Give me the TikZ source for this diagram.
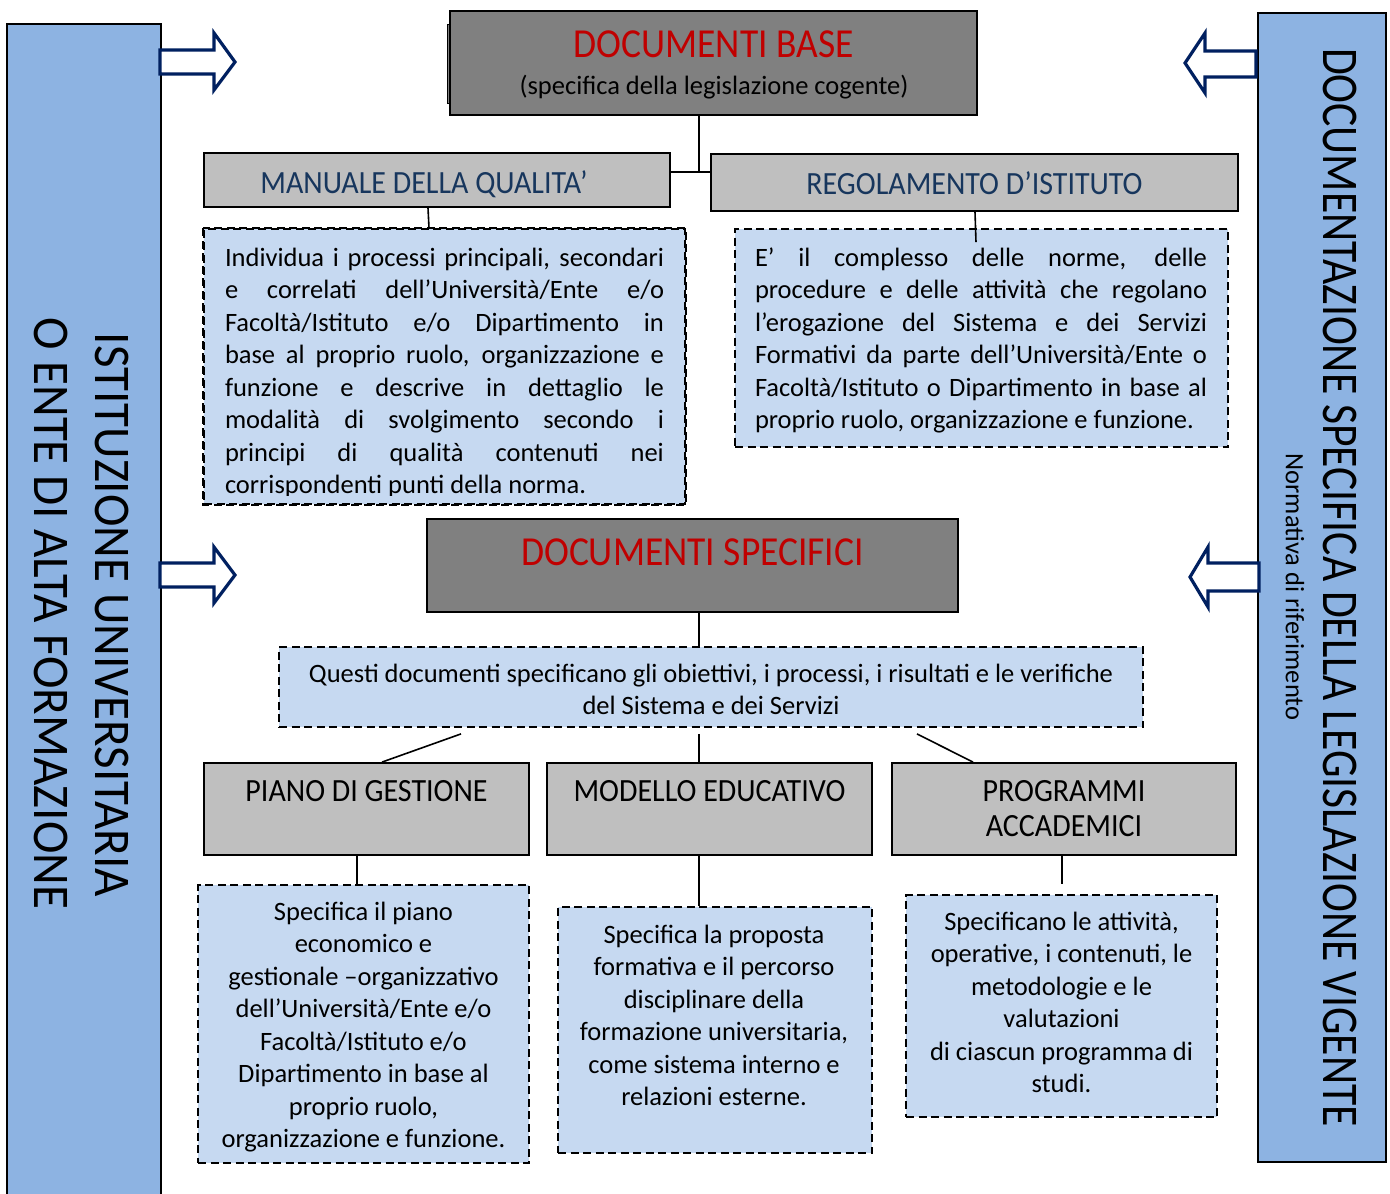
\documentclass[tikz,border=0pt]{standalone}
\usepackage{fontspec}
\setmainfont{Carlito}
\usetikzlibrary{calc}
\definecolor{colblue}{HTML}{8DB3E2}
\definecolor{pale}{HTML}{C6D9F1}
\definecolor{dgray}{HTML}{808080}
\definecolor{lgray}{HTML}{BFBFBF}
\definecolor{navytxt}{HTML}{17365D}
\definecolor{navyarrow}{HTML}{002060}
\definecolor{redtxt}{HTML}{C00000}
\newcommand\mybody{\fontsize{26.5}{32.5}\selectfont}
\newcommand\myhead{\fontsize{30}{35}\selectfont}
\newcommand\mybig{\fontsize{37.5}{42}\selectfont}
\tikzset{
  colbox/.style={draw=black, line width=1.8, fill=colblue, inner sep=0},
  darkbox/.style={draw=black, line width=1.8, fill=dgray, inner sep=0},
  lightbox/.style={draw=black, line width=1.8, fill=lgray, inner sep=0},
  dashbox/.style={draw=black, line width=1.8, fill=pale, dash pattern=on 8 off 4.5, inner sep=0},
  conn/.style={draw=black, line width=1.6},
  blockarrow/.style={draw=navyarrow, line width=3.2, fill=white, line join=miter},
  txt/.style={inner sep=0, anchor=base},
  rtxt/.style={inner sep=0, anchor=center, rotate=-90},
}
\begin{document}
\begin{tikzpicture}[x=1pt,y=-1pt]
\useasboundingbox (0,0) rectangle (1390,1194);
\clip (0,0) rectangle (1390,1194);

% side columns
\node[colbox, minimum width=154, minimum height=1186] (leftcol) at (84,617) {};
\node[colbox, minimum width=128, minimum height=1149] (rightcol) at (1322,587.5) {};
\node[rtxt] (lt1) at (112,615) {\fontsize{49}{55}\selectfont\scalebox{1}[1.05]{ISTITUZIONE UNIVERSITARIA}};
\node[rtxt] (lt2) at (51,613.5) {\fontsize{49}{55}\selectfont\scalebox{1}[1.05]{O ENTE DI ALTA FORMAZIONE}};
\node[rtxt] (rt1) at (1340,587.5) {\fontsize{43.6}{50}\selectfont\scalebox{1}[1.18]{DOCUMENTAZIONE SPECIFICA DELLA LEGISLAZIONE VIGENTE}};
\node[rtxt] (rt2) at (1295,587) {\mybody Normativa di riferimento};

% block arrows
\draw[blockarrow] (160,50) -- (214,50) -- (214,33) -- (235,62) -- (214,90) -- (214,74) -- (160,74) -- cycle;
\draw[blockarrow] (160,563) -- (214,563) -- (214,547) -- (235,575) -- (214,603) -- (214,587) -- (160,587) -- cycle;
\draw[blockarrow] (1256,51) -- (1205,51) -- (1205,33) -- (1185,63) -- (1205,93) -- (1205,77) -- (1256,77) -- cycle;
\draw[blockarrow] (1259,563) -- (1208,563) -- (1208,547) -- (1190,577) -- (1208,607) -- (1208,591) -- (1259,591) -- cycle;

% top part
\draw[line width=1, fill=dgray] (447,24) rectangle (462,103);
\node[darkbox, minimum width=527, minimum height=104] (docbase) at (713.5,63) {};
\node[txt, text=redtxt] (docbaset) at (713.5,57) {\mybig\scalebox{1}[1.1]{DOCUMENTI BASE}};
\node[txt] (docbases) at (714,94) {\mybody (specifica della legislazione cogente)};

\node[lightbox, minimum width=466, minimum height=54] (manuale) at (437,180) {};
\node[txt, text=navytxt] (manualet) at (424,193) {\myhead\scalebox{1}[1.08]{MANUALE DELLA QUALITA’}};
\node[lightbox, minimum width=527, minimum height=57] (regol) at (974.5,182.5) {};
\node[txt, text=navytxt] (regolt) at (974.5,194) {\myhead\scalebox{1}[1.08]{REGOLAMENTO D’ISTITUTO}};

\coordinate (j1) at (699,172);
\draw[conn] ([xshift=-14.5pt]docbase.south) -- (j1);
\draw[conn] (manuale.east |- j1) -- (regol.west |- j1);

\node[dashbox, minimum width=481, minimum height=275] (box1) at (444.5,366.5) {};
\begin{scope}
\clip ($(box1.north west)+(2,2)$) rectangle ($(box1.south east)+(-2,-9)$);
\node[txt] (box1t) at (444.5,266) {\parbox[t]{439pt}{\mybody
\makebox[439pt][s]{Individua i processi principali, secondari}\\
\makebox[439pt][s]{e correlati dell’Università/Ente e/o}\\
\makebox[439pt][s]{Facoltà/Istituto e/o Dipartimento in}\\
\makebox[439pt][s]{base al proprio ruolo, organizzazione e}\\
\makebox[439pt][s]{funzione e descrive in dettaglio le}\\
\makebox[439pt][s]{modalità di svolgimento secondo i}\\
\makebox[439pt][s]{principi di qualità contenuti nei}\\
corrispondenti punti della norma.}};
\end{scope}
\draw[line width=1.8, dash pattern=on 8 off 4.5] (box1.north west) rectangle (box1.south east);

\node[dashbox, minimum width=493, minimum height=218] (box2) at (981.5,338) {};
\node[txt] (box2t) at (981,266) {\parbox[t]{452pt}{\mybody
\makebox[452pt][s]{E’ il complesso delle norme, delle}\\
\makebox[452pt][s]{procedure e delle attività che regolano}\\
\makebox[452pt][s]{l’erogazione del Sistema e dei Servizi}\\
\makebox[452pt][s]{Formativi da parte dell’Università/Ente o}\\
\makebox[452pt][s]{Facoltà/Istituto o Dipartimento in base al}\\
proprio ruolo, organizzazione e funzione.}};

\draw[conn] ([xshift=-9pt]manuale.south) -- ([xshift=-15.5pt]box1.north);
\draw[conn] ([xshift=0.5pt]regol.south) -- ($(box2.north)+(-5.5,14)$);

% middle part
\node[darkbox, minimum width=531, minimum height=93] (docspec) at (692.5,565.5) {};
\node[txt, text=redtxt] (docspect) at (692.5,565) {\mybig\scalebox{1}[1.1]{DOCUMENTI SPECIFICI}};

\node[dashbox, minimum width=864, minimum height=80] (box3) at (711,687) {};
\node[txt] (box3t) at (711,682) {\parbox[t]{860pt}{\centering\mybody
Questi documenti specificano gli obiettivi, i processi, i risultati e le verifiche\\
del Sistema e dei Servizi}};
\draw[conn] ([xshift=6.5pt]docspec.south) -- ([xshift=-12pt]box3.north);

% bottom part
\node[lightbox, minimum width=325, minimum height=92] (piano) at (366.5,809) {};
\node[txt] (pianot) at (366.5,801) {\myhead\scalebox{1}[1.08]{PIANO DI GESTIONE}};
\node[lightbox, minimum width=325, minimum height=92] (modello) at (709.5,809) {};
\node[txt] (modellot) at (709.5,801) {\myhead\scalebox{1}[1.08]{MODELLO EDUCATIVO}};
\node[lightbox, minimum width=344, minimum height=92] (programmi) at (1064,809) {};
\node[txt] (programmit) at (1064,801) {\parbox[t]{340pt}{\centering\myhead
\scalebox{1}[1.08]{PROGRAMMI}\\\scalebox{1}[1.08]{ACCADEMICI}}};

\draw[conn] ($(box3.south)+(-250,6)$) -- ($(piano.north)+(15.5,0)$);
\draw[conn] ($(box3.south)+(-12,6)$) -- ($(modello.north)+(-10.5,0)$);
\draw[conn] ($(box3.south)+(206,6)$) -- ($(programmi.north)+(-91,0)$);

\node[dashbox, minimum width=331, minimum height=278] (pbox) at (363.5,1024) {};
\node[txt] (pboxt) at (363.5,920) {\parbox[t]{330pt}{\centering\mybody
Specifica il piano\\
economico e\\
gestionale –organizzativo\\
dell’Università/Ente e/o\\
Facoltà/Istituto e/o\\
Dipartimento in base al\\
proprio ruolo,\\
organizzazione e funzione.}};

\node[dashbox, minimum width=314, minimum height=246] (mbox) at (715,1030) {};
\node[txt] (mboxt) at (714,943) {\parbox[t]{312pt}{\centering\mybody
Specifica la proposta\\
formativa e il percorso\\
disciplinare della\\
formazione universitaria,\\
come sistema interno e\\
relazioni esterne.}};

\node[dashbox, minimum width=311, minimum height=222] (gbox) at (1061.5,1006) {};
\node[txt] (gboxt) at (1061.5,930) {\parbox[t]{310pt}{\centering\mybody
Specificano le attività,\\
operative, i contenuti, le\\
metodologie e le\\
valutazioni\\
di ciascun programma di\\
studi.}};

\draw[conn] ($(piano.south)+(-9.5,0)$) -- ($(pbox.north)+(-6.5,0)$);
\draw[conn] ($(modello.south)+(-10.5,0)$) -- ($(mbox.north)+(-16,0)$);
\draw[conn] ($(programmi.south)+(-2,0)$) -- ($(gbox.north)+(0.5,-10)$);
\end{tikzpicture}
\end{document}
